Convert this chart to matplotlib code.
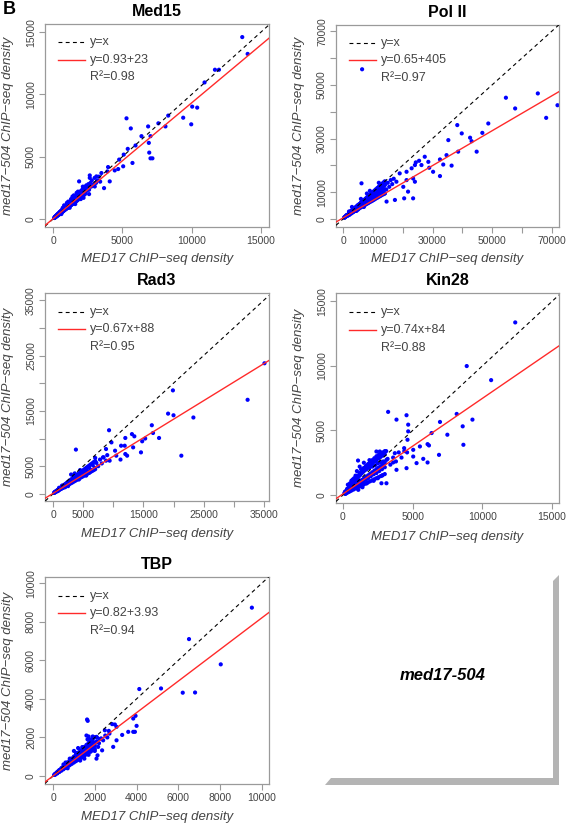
import matplotlib
matplotlib.use("Agg")
import matplotlib.pyplot as plt
from matplotlib.lines import Line2D
from matplotlib.patches import Polygon

plt.rcParams["font.family"] = ["Liberation Sans", "DejaVu Sans"]

W, H = 567, 826

# ── Panel settings ──────────────────────────────────────────────────────────
panel_titles = ["Med15", "Pol II", "Rad3", "Kin28", "TBP"]
fit_slopes = [0.93, 0.65, 0.67, 0.74, 0.82]
fit_intercepts = [23, 405, 88, 84, 3.93]
fit_labels = ["y=0.93+23", "y=0.65+405", "y=0.67x+88", "y=0.74x+84", "y=0.82+3.93"]
r2_labels = ["R²=0.98", "R²=0.97", "R²=0.95", "R²=0.88", "R²=0.94"]

x_limits = [(-580, 15580), (-2350, 72400), (-1330, 35850), (-500, 15500), (-385, 10340)]
y_limits = [(-640, 15650), (-2980, 72300), (-1290, 36300), (-620, 15650), (-415, 10320)]

med15_ticks = [0, 5000, 10000, 15000]
med15_labels = ["0", "5000", "10000", "15000"]
pol2_ticks = [0, 10000, 20000, 30000, 40000, 50000, 60000, 70000]
pol2_labels = ["0", "10000", "", "30000", "", "50000", "", "70000"]
rad3_ticks = [0, 5000, 10000, 15000, 20000, 25000, 30000, 35000]
rad3_labels = ["0", "5000", "", "15000", "", "25000", "", "35000"]
kin28_ticks = [0, 5000, 10000, 15000]
kin28_labels = ["0", "5000", "10000", "15000"]
tbp_ticks = [0, 2000, 4000, 6000, 8000, 10000]
tbp_labels = ["0", "2000", "4000", "6000", "8000", "10000"]

# ── Scatter points: MED17 (x) vs med17-504 (y) ──────────────────────────────
med15_x = [13650, 14040, 11680, 11970, 10930, 10040, 10400, 9970, 9390, 8310,
           8110, 7600, 5300, 5610, 6860, 7030, 6380, 6910, 6940, 7030,
           7170, 5950, 5390, 5730, 5100, 4770, 5060, 4700, 4450, 3970,
           3920, 3490, 1880, 2650, 3130, 4090, 3680, 3010,
           150, 220, 260, 300, 350, 400, 420, 480, 500, 550,
           600, 620, 680, 700, 750, 780, 820, 850, 900, 920,
           980, 1000, 1050, 1080, 1120, 1150, 1200, 1220, 1280, 1300,
           1350, 1400, 1450, 1480, 1520, 1550, 1600, 1650, 1700, 1750,
           1800, 1850, 1900, 1950, 2000, 2050, 2100, 2200, 2250, 2300,
           2350, 2400, 2450, 2500, 2550, 2600, 2700, 2750, 2800, 2900,
           1000, 1200, 1400, 1600, 1800, 2000, 800, 600, 700, 1100,
           1300, 1500, 1700, 2150, 2650, 3000, 3100, 3200, 3300, 3400,
           2600, 2200]
med15_y = [14600, 13250, 11980, 11980, 10960, 9020, 8940, 7600, 8130, 8300,
           7430, 7680, 8080, 7270, 7430, 6650, 6650, 6110, 5330, 4870,
           4870, 5900, 5630, 4500, 5170, 4770, 4230, 4010, 3900, 4170,
           3820, 3690, 3020, 3500, 3420, 3020, 2480, 2610,
           160, 200, 300, 250, 380, 330, 450, 420, 560, 480,
           640, 520, 700, 600, 820, 680, 900, 760, 980, 820,
           1050, 880, 1150, 950, 1250, 1020, 1300, 1100, 1400, 1150,
           1500, 1250, 1600, 1350, 1450, 1700, 1400, 1800, 1550, 1900,
           1600, 2000, 1750, 2150, 1850, 2250, 1900, 2400, 2050, 2550,
           2150, 2700, 2300, 2500, 2800, 2350, 2900, 2600, 3100, 2750,
           1300, 900, 1800, 1200, 2200, 1600, 1100, 400, 900, 1400,
           1600, 1900, 2100, 2600, 3300, 3300, 2900, 3100, 3400, 3000,
           2000, 1700]
# dense core of the cloud
med15_core_x = [100, 150, 200, 250, 300, 350, 400, 450, 500, 550,
                600, 650, 700, 750, 800, 850, 900, 950, 1000, 1050,
                1100, 1150, 1200, 1250, 1300, 1350, 1400, 1450, 1500, 1550,
                1600, 1650, 1700, 1750, 1800, 1900, 2000, 2100, 2200, 2300]
med15_core_top = [110, 170, 225, 280, 340, 395, 450, 505, 560, 620,
                  675, 730, 785, 840, 900, 955, 1010, 1065, 1120, 1180,
                  1235, 1290, 1345, 1400, 1460, 1515, 1570, 1625, 1680, 1740,
                  1795, 1850, 1905, 1960, 2020, 2130, 2240, 2350, 2460, 2580]
med15_core_hi = [130, 190, 230, 290, 340, 400, 440, 500, 540, 600,
                 650, 700, 760, 800, 860, 900, 960, 1000, 1060, 1100,
                 1160, 1200, 1270, 1310, 1370, 1410, 1480, 1520, 1580, 1620,
                 1690, 1720, 1790, 1830, 1900, 2000, 2100, 2200, 2300, 2400]
med15_core_lo = [80, 120, 170, 210, 260, 300, 350, 380, 430, 470,
                 520, 560, 600, 650, 690, 730, 780, 820, 860, 900,
                 950, 990, 1030, 1070, 1120, 1160, 1200, 1240, 1290, 1330,
                 1370, 1420, 1460, 1500, 1550, 1640, 1720, 1810, 1900, 1990]

pol2_x = [6400, 65300, 54600, 71900, 57700, 68100, 48700, 38300, 39800, 42600,
          46700, 43100, 35300, 38600, 44800, 34700, 32500, 27400, 28600, 25500,
          24400, 24100, 26300, 33600, 36400, 28900, 30200, 32500, 23000, 21300,
          23500, 24100, 20200, 21800, 23500, 20500, 17400, 14600, 6200, 21300,
          19000, 17900,
          800, 1200, 1500, 2000, 2200, 2500, 2800, 3000, 3300, 3500,
          3800, 4000, 4200, 4500, 4800, 5000, 5200, 5500, 5800, 6000,
          6200, 6500, 6800, 7000, 7200, 7500, 7800, 8000, 8200, 8500,
          8800, 9000, 9200, 9500, 9800, 10000, 10300, 10500, 10800, 11000,
          11500, 11800, 12000, 12500, 12800, 13000, 13500, 14000, 14500, 15000,
          15500, 16000, 16500, 17000, 3000, 4500, 6000, 7000, 9000, 10000,
          12000, 14000, 2000, 5000, 8000, 11000, 6500, 4000, 1000, 1800]
pol2_y = [55800, 46800, 45200, 42400, 41200, 37700, 35600, 35000, 31900, 30300,
          32100, 29000, 29400, 25100, 25100, 23800, 22200, 23200, 21300, 21700,
          21100, 20100, 20100, 20300, 19900, 19100, 17600, 16000, 18900, 17600,
          15100, 13900, 12000, 10200, 7700, 7700, 7100, 6500, 13300, 14500,
          17000, 13900,
          900, 1500, 1200, 2200, 1600, 2900, 2100, 3300, 2500, 3800,
          2900, 4200, 3300, 4700, 3600, 5200, 4000, 5600, 4400, 6100,
          4800, 6400, 5000, 6900, 5400, 7300, 5800, 7800, 6200, 8100,
          6500, 8600, 7000, 9000, 7300, 9500, 7800, 10000, 8200, 10400,
          8600, 11000, 9000, 11500, 9500, 12000, 10000, 12800, 11000, 13500,
          12000, 14500, 13000, 15000, 4500, 3000, 7500, 4500, 10500, 7000,
          13500, 9500, 2800, 3500, 9500, 8000, 5500, 3500, 1100, 1400]
pol2_core_x = [500, 1000, 1500, 2000, 2500, 3000, 3500, 4000, 4500, 5000,
               5500, 6000, 6500, 7000, 7500, 8000, 8500, 9000, 9500, 10000,
               10500, 11000, 11500, 12000, 12500, 13000, 13500, 14000]
pol2_core_top = [550, 1050, 1550, 2050, 2550, 3050, 3550, 4050, 4550, 5050,
                 5550, 6050, 6550, 7050, 7550, 8050, 8550, 9050, 9550, 10050,
                 10550, 11050, 11550, 12050, 12550, 13050, 13550, 14050]
pol2_core_hi = [500, 950, 1400, 1850, 2300, 2750, 3200, 3650, 4100, 4550,
                5000, 5450, 5900, 6350, 6800, 7250, 7700, 8150, 8600, 9050,
                9500, 9950, 10400, 10850, 11300, 11750, 12200, 12650]
pol2_core_mid = [600, 1000, 1400, 1800, 2200, 2600, 2950, 3350, 3750, 4100,
                 4500, 4900, 5300, 5650, 6050, 6450, 6850, 7200, 7600, 8000,
                 8400, 8750, 9150, 9550, 9950, 10300, 10700, 11100]
pol2_core_lo = [700, 1050, 1400, 1700, 2050, 2400, 2700, 3050, 3350, 3700,
                4000, 4350, 4650, 5000, 5300, 5650, 5950, 6300, 6600, 6950,
                7250, 7600, 7900, 8250, 8550, 8900, 9200, 9550]

rad3_x = [35100, 32300, 19900, 19100, 20000, 23300, 16400, 16600, 21300, 9300,
          3800, 13100, 13500, 12000, 15300, 14800, 17600, 14600, 11300, 11900,
          13300, 10300, 12000, 10500, 12300, 11200, 9400, 8800, 9700, 8300,
          200, 300, 400, 500, 600, 700, 800, 900, 1000, 1100,
          1200, 1300, 1400, 1500, 1600, 1700, 1800, 1900, 2000, 2100,
          2200, 2300, 2400, 2500, 2600, 2700, 2800, 2900, 3000, 3100,
          3200, 3300, 3400, 3500, 3600, 3700, 3800, 3900, 4000, 4200,
          4400, 4600, 4800, 5000, 5200, 5400, 5600, 5800, 6000, 6300,
          6600, 6900, 7200, 7500, 7800, 8100, 8400, 8800, 9000, 3000,
          2500, 4500, 5500, 1500, 2000, 7000, 6000, 3600, 4300, 1000, 800]
rad3_y = [23600, 17000, 18700, 14500, 14200, 13800, 12400, 11000, 6900, 11500,
          8000, 10800, 10400, 10100, 10000, 9500, 10100, 7500, 8700, 8700,
          8400, 7800, 7200, 6900, 6900, 6200, 6000, 8100, 9300, 6600,
          180, 350, 300, 450, 550, 500, 700, 650, 850, 800,
          1000, 900, 1150, 1050, 1300, 1150, 1450, 1300, 1600, 1400,
          1750, 1550, 1900, 1700, 2100, 1850, 2250, 2000, 2400, 2100,
          2600, 2250, 2750, 2400, 2900, 2550, 3100, 2700, 3300, 2900,
          3600, 3100, 3900, 3400, 4100, 3700, 4400, 4000, 4800, 4300,
          5200, 4700, 5600, 5000, 6200, 5500, 6600, 6000, 7000, 3500,
          1400, 4300, 3300, 1500, 1200, 6500, 3800, 3700, 2600, 1100, 500]
rad3_core_x = [250, 500, 750, 1000, 1250, 1500, 1750, 2000, 2250, 2500,
               2750, 3000, 3250, 3500, 3750, 4000, 4250, 4500, 4750, 5000,
               5250, 5500, 5750, 6000, 6250, 6500, 6750, 7000]
rad3_core_hi = [280, 480, 700, 900, 1130, 1330, 1550, 1760, 1980, 2180,
                2400, 2600, 2820, 3020, 3240, 3440, 3650, 3860, 4070, 4270,
                4480, 4700, 4900, 5100, 5320, 5520, 5740, 5940]
rad3_core_lo = [230, 380, 530, 680, 850, 1000, 1150, 1300, 1470, 1620,
                1780, 1930, 2080, 2250, 2400, 2560, 2720, 2870, 3030, 3180,
                3350, 3500, 3650, 3820, 3970, 4130, 4290, 4450]

kin28_x = [12360, 8880, 10630, 8160, 9290, 8590, 8640, 7490, 6960, 6890,
           6360, 6070, 6170, 6070, 5760, 5520, 3240, 4560, 4680, 4680,
           3840, 4630, 5040, 5040, 5280, 4390, 4560, 3840, 3120, 2760,
           3720, 2640, 1080, 2400, 3600, 3120,
           100, 200, 250, 300, 350, 400, 450, 500, 550, 600,
           650, 700, 750, 800, 850, 900, 950, 1000, 1050, 1100,
           1150, 1200, 1250, 1300, 1350, 1400, 1450, 1500, 1600, 1650,
           1700, 1800, 1900, 2000, 2100, 2200, 2300, 2400, 2500, 2600,
           2700, 2800, 2900, 3000, 3200, 3400, 3600, 3800, 4000, 4200,
           4400, 4600, 600, 900, 1200, 1500, 1900, 1400, 1700, 2200,
           2500, 2800, 1000, 800, 2000, 3100, 500, 350, 700, 1100,
           1300, 2400]
kin28_y = [13370, 9990, 8900, 6280, 5840, 5320, 3890, 4670, 5660, 3110,
           4800, 3940, 3840, 2520, 2800, 3760, 6440, 6180, 5450, 4930,
           5840, 4280, 3500, 2980, 2470, 3630, 2080, 1950, 910, 910,
           3240, 3370, 2670, 3370, 2520, 2720,
           150, 100, 350, 200, 450, 250, 550, 300, 650, 400,
           800, 450, 900, 550, 1000, 600, 1150, 700, 1300, 800,
           1500, 850, 1600, 950, 1750, 1050, 1800, 1100, 1950, 1200,
           2000, 1300, 2100, 1450, 2200, 1600, 2300, 1700, 2450, 1850,
           2550, 2000, 2600, 2150, 2800, 2350, 2900, 2600, 3300, 2900,
           3400, 3300, 1100, 1500, 2200, 2500, 2700, 600, 900, 1100,
           1300, 1500, 1850, 1300, 2500, 3400, 900, 800, 1200, 400,
           2000, 2800]
kin28_core_x = [150, 300, 450, 600, 750, 900, 1050, 1200, 1350, 1500,
                1650, 1800, 1950, 2100, 2250, 2400, 2550, 2700, 2850, 3000]
kin28_core_top = [260, 480, 700, 900, 1100, 1300, 1500, 1700, 1900, 2100,
                  2250, 2400, 2550, 2700, 2850, 3000, 3100, 3200, 3300, 3400]
kin28_core_hi = [220, 400, 590, 780, 960, 1150, 1330, 1500, 1680, 1850,
                 2000, 2150, 2300, 2450, 2580, 2700, 2830, 2950, 3050, 3150]
kin28_core_mid = [150, 280, 420, 540, 670, 790, 920, 1040, 1160, 1280,
                  1400, 1520, 1640, 1760, 1880, 2000, 2110, 2230, 2350, 2470]
kin28_core_lo = [90, 170, 260, 340, 420, 500, 580, 660, 740, 820,
                 900, 980, 1060, 1140, 1220, 1300, 1380, 1460, 1540, 1620]

tbp_x = [9520, 6510, 8030, 6800, 6210, 5170, 4130, 3950, 3840, 4000,
         3920, 3840, 3600, 3040, 2880, 3310, 2830, 2960, 3040, 1630,
         1660, 2080, 2240, 2160, 2080, 2130, 2350, 2480, 2670,
         50, 100, 150, 200, 250, 300, 350, 400, 450, 500,
         550, 600, 650, 700, 750, 800, 850, 900, 950, 1000,
         1050, 1100, 1150, 1200, 1250, 1300, 1350, 1400, 1450, 1500,
         1550, 1600, 1650, 1700, 1750, 1800, 1850, 1900, 1950, 2000,
         2100, 2200, 2300, 2400, 2500, 2600, 2700, 1400, 1100, 800,
         1500, 1300, 1700, 1200, 1000, 1650, 1900, 2000, 700, 600,
         500, 1800, 1700, 1600, 2100]
tbp_y = [8730, 7100, 5790, 4330, 4320, 4540, 4510, 3120, 2980, 2600,
         2290, 2290, 2290, 1850, 1510, 2130, 2690, 2670, 2550, 2930,
         2860, 2030, 1920, 1510, 900, 1070, 1330, 2370, 2340,
         60, 80, 150, 140, 250, 230, 330, 300, 420, 380,
         500, 450, 600, 540, 700, 620, 780, 700, 880, 780,
         950, 860, 1050, 940, 1150, 1020, 1230, 1100, 1300, 1180,
         1400, 1260, 1500, 1330, 1580, 1420, 1650, 1500, 1750, 1580,
         1800, 1700, 1950, 1850, 2100, 2000, 2200, 1500, 1200, 900,
         900, 800, 1100, 1450, 1300, 1900, 2050, 1300, 400, 700,
         600, 1900, 2050, 2100, 2000]
tbp_core_x = [100, 200, 300, 400, 500, 600, 700, 800, 900, 1000,
              1100, 1200, 1300, 1400, 1500, 1600, 1700, 1800, 1900, 2000]
tbp_core_hi = [110, 210, 310, 410, 510, 610, 710, 810, 910, 1010,
               1110, 1210, 1310, 1410, 1510, 1610, 1710, 1810, 1910, 2010]
tbp_core_mid = [90, 175, 260, 345, 430, 515, 600, 685, 770, 855,
                940, 1025, 1110, 1195, 1280, 1365, 1450, 1535, 1620, 1705]
tbp_core_lo = [70, 140, 210, 280, 350, 420, 490, 560, 630, 700,
               770, 840, 910, 980, 1050, 1120, 1190, 1260, 1330, 1400]

points_x = [med15_x + med15_core_x * 3,
            pol2_x + pol2_core_x * 4,
            rad3_x + rad3_core_x * 2,
            kin28_x + kin28_core_x * 4,
            tbp_x + tbp_core_x * 3]
points_y = [med15_y + med15_core_top + med15_core_hi + med15_core_lo,
            pol2_y + pol2_core_top + pol2_core_hi + pol2_core_mid + pol2_core_lo,
            rad3_y + rad3_core_hi + rad3_core_lo,
            kin28_y + kin28_core_top + kin28_core_hi + kin28_core_mid + kin28_core_lo,
            tbp_y + tbp_core_hi + tbp_core_mid + tbp_core_lo]
panel_ticks = [(med15_ticks, med15_labels), (pol2_ticks, pol2_labels),
               (rad3_ticks, rad3_labels), (kin28_ticks, kin28_labels),
               (tbp_ticks, tbp_labels)]

# panel boxes in pixels: left, top, right, bottom
panel_boxes = [(45, 24, 269, 227), (336, 25, 559, 227),
               (45, 293, 269, 501), (336, 293, 559, 503),
               (45, 577, 269, 784)]

FRAME = "#9a9a9a"
TXT = "#444444"


def px_axes(fig, box):
    left, top, right, bottom = box
    return fig.add_axes([left / W, 1 - bottom / H, (right - left) / W, (bottom - top) / H])


fig = plt.figure(figsize=(W / 100, H / 100), dpi=100)

for i, title in enumerate(panel_titles):
    ax = px_axes(fig, panel_boxes[i])
    ax.set_xlim(*x_limits[i])
    ax.set_ylim(*y_limits[i])

    ax.scatter(points_x[i], points_y[i], s=9, c="#0000ff", edgecolors="none", zorder=2)
    ax.axline((0, 0), slope=1, color="black", lw=0.8, ls=(0, (3.5, 3)), zorder=3)
    ax.axline((0, fit_intercepts[i]), slope=fit_slopes[i], color="#ff2a2a", lw=1.0, zorder=3)

    ticks, labels = panel_ticks[i]
    ax.set_xticks(ticks)
    ax.set_xticklabels(labels)
    ax.set_yticks(ticks)
    ax.set_yticklabels(labels, rotation=90, va="center")
    ax.tick_params(direction="out", length=4, width=0.8, color=FRAME,
                   labelcolor=TXT, labelsize=7.5, pad=2.5)
    for spine in ax.spines.values():
        spine.set_color(FRAME)
        spine.set_linewidth(0.9)

    ax.set_title(title, fontsize=11.5, fontweight="bold", pad=6)
    ax.set_xlabel("MED17 ChIP\u2212seq density", fontsize=9.5, style="italic", color=TXT)
    ax.set_ylabel("med17\u2212504 ChIP\u2212seq density", fontsize=9.5, style="italic", color=TXT)
    ax.xaxis.set_label_coords(0.5, -0.16)
    ax.xaxis.label.set_va("center")
    ax.yaxis.set_label_coords(-0.165, 0.5)
    ax.yaxis.label.set_va("center")

    # ── manual legend, no frame ────────────────────────────────────────────
    rows = [0.91, 0.825, 0.74]
    ax.add_line(Line2D([0.058, 0.18], [rows[0]] * 2, transform=ax.transAxes,
                       color="black", lw=0.8, ls=(0, (3.5, 3))))
    ax.add_line(Line2D([0.058, 0.18], [rows[1]] * 2, transform=ax.transAxes,
                       color="#ff2a2a", lw=1.0))
    for row, text in zip(rows, ["y=x", fit_labels[i], r2_labels[i]]):
        ax.text(0.2, row, text, transform=ax.transAxes, fontsize=9,
                color=TXT, ha="left", va="center")

# ── bottom-right caption box with grey drop shadow ───────────────────────────
shadow_px = [(331, 778), (553, 778), (553, 581), (559, 575), (559, 785), (325, 785)]
fig.patches.append(Polygon([(x / W, 1 - y / H) for x, y in shadow_px], closed=True,
                           transform=fig.transFigure, facecolor="#b4b4b4",
                           edgecolor="none"))
fig.text(443 / W, 1 - 676 / H, "med17-504", fontsize=12, fontweight="bold",
         style="italic", ha="center", va="center", color="black")

fig.text(3 / W, 1 - 9 / H, "B", fontsize=13, fontweight="bold", ha="left", va="center")

fig.savefig("out.png", dpi=100)
